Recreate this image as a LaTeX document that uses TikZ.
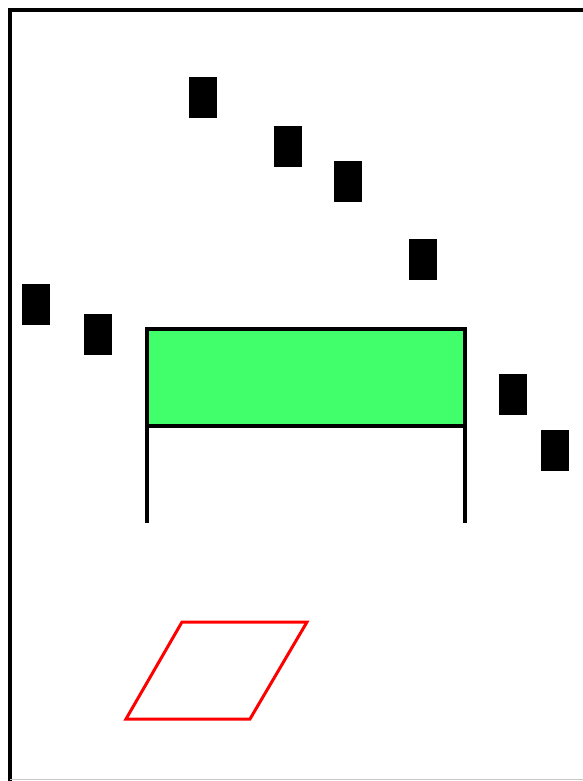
\documentclass[tikz,border=0pt]{standalone}
\usetikzlibrary{positioning}
\definecolor{boxgreen}{RGB}{64,255,106}
\definecolor{framegray}{RGB}{200,200,200}
\tikzset{
  blk/.style={draw=none,fill=black,inner sep=0pt,outer sep=0pt,minimum width=28pt,minimum height=41pt},
  greenbox/.style={draw=black,line width=3.5pt,fill=boxgreen,inner sep=0pt,outer sep=0pt,minimum width=318pt,minimum height=97pt},
  leg/.style={draw=black,line width=3.5pt},
  para/.style={draw=red,line width=3pt,line join=miter},
  frameline/.style={draw=black,line width=4pt}
}
\begin{document}
\begin{tikzpicture}[x=1pt,y=-1pt]
\useasboundingbox[fill=white] (0,0) rectangle (582,781);
% frame
\coordinate (ftl) at (10,10.5);
\coordinate (ftr) at (584,10.5);
\coordinate (fbl) at (10,783);
\draw[frameline] (ftr) -- (ftl) -- (fbl);
\coordinate (bl) at (10,779.5);
\coordinate (br) at (584,779.5);
\draw[framegray,line width=1.5pt] (bl) -- (br);
% black blocks
\node[blk] (b1) at (203,97.5) {};
\node[blk] (b2) at (288,146.5) {};
\node[blk] (b3) at (348,181.5) {};
\node[blk] (b4) at (423,259.5) {};
\node[blk] (b5) at (36,304) {};
\node[blk] (b6) at (98,334) {};
\node[blk] (b7) at (513,394) {};
\node[blk] (b8) at (554.5,450.5) {};
% green box with legs
\node[greenbox] (g) at (306,377.5) {};
\coordinate (gl) at (147,523);
\coordinate (gr) at (465,523);
\draw[leg] (g.south west) -- (gl);
\draw[leg] (g.south east) -- (gr);
% parallelogram
\coordinate (p1) at (182,622);
\coordinate (p2) at (307,622);
\coordinate (p3) at (250,719);
\coordinate (p4) at (126,719);
\draw[para] (p1) -- (p2) -- (p3) -- (p4) -- cycle;
\end{tikzpicture}
\end{document}
